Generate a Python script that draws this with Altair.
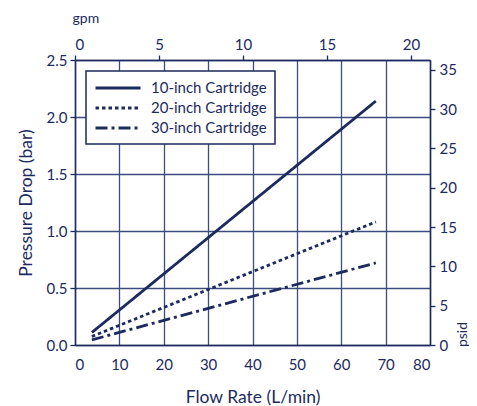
import altair as alt
import pandas as pd

# ---- data ----
series = ["10-inch Cartridge", "20-inch Cartridge", "30-inch Cartridge"]
flow_start = [3.8, 3.8, 3.8]        # L/min
flow_end = [67.8, 67.8, 67.8]       # L/min
bar_start = [0.11, 0.075, 0.045]    # bar
bar_end = [2.14, 1.08, 0.72]        # bar

flow_ticks = [0, 10, 20, 30, 40, 50, 60, 70, 80]
bar_ticks = [0.0, 0.5, 1.0, 1.5, 2.0, 2.5]
gpm_ticks = [0, 5, 10, 15, 20]
psid_ticks = [0, 5, 10, 15, 20, 25, 30, 35]

LPM_PER_GPM = 3.78541
PSI_PER_BAR = 14.5038
flow_max = 80
bar_max = 2.5

rows = []
for s, x0, x1, y0, y1 in zip(series, flow_start, flow_end, bar_start, bar_end):
    rows.append({"series": s, "flow": x0, "bar": y0})
    rows.append({"series": s, "flow": x1, "bar": y1})
df = pd.DataFrame(rows)

df2 = pd.DataFrame({"gpm": [0, flow_max / LPM_PER_GPM],
                    "psid": [0, bar_max * PSI_PER_BAR]})

navy = "#1c2a5e"
grid = "#3d4c7c"
font = "Lato"

lines = alt.Chart(df).mark_line(strokeWidth=2.8, strokeCap="butt", color=navy).encode(
    x=alt.X("flow:Q",
            scale=alt.Scale(domain=[0, flow_max], nice=False, zero=True),
            axis=alt.Axis(values=flow_ticks, title="Flow Rate (L/min)", grid=True,
                          ticks=False, labelPadding=12, titlePadding=16)),
    y=alt.Y("bar:Q",
            scale=alt.Scale(domain=[0, bar_max], nice=False),
            axis=alt.Axis(values=bar_ticks, format=".1f", title="Pressure Drop (bar)",
                          grid=True, tickSize=5, labelPadding=3, titlePadding=11)),
    strokeDash=alt.StrokeDash(
        "series:N",
        scale=alt.Scale(domain=series, range=[[1, 0], [3.5, 3], [12, 4, 3, 4]]),
        legend=alt.Legend(title=None, orient="none", legendX=11, legendY=11,
                          fillColor="white", strokeColor=navy,
                          padding=8, symbolType="M-1,0H5", symbolSize=225,
                          symbolStrokeWidth=2.8, symbolStrokeColor=navy,
                          labelFontSize=15, labelColor=navy, labelFont=font,
                          rowPadding=3, labelOffset=39),
    ),
)

secondary = alt.Chart(df2).mark_point(opacity=0).encode(
    x=alt.X("gpm:Q",
            scale=alt.Scale(domain=[0, flow_max / LPM_PER_GPM], nice=False),
            axis=alt.Axis(orient="top", values=gpm_ticks, title="gpm", grid=False,
                          tickSize=5, labelPadding=3, titleAnchor="start",
                          titleAlign="left", titleX=-3, titleY=-42,
                          titleBaseline="middle", titleFontSize=14)),
    y=alt.Y("psid:Q",
            scale=alt.Scale(domain=[0, bar_max * PSI_PER_BAR], nice=False),
            axis=alt.Axis(orient="right", values=psid_ticks, title="psid", grid=False,
                          tickSize=5, labelPadding=4, titleAngle=270,
                          titleX=32, titleY=274, titleAlign="center",
                          titleBaseline="middle", titleFontSize=14)),
)

chart = alt.layer(lines, secondary).resolve_scale(
    x="independent", y="independent"
).properties(
    width=355, height=285, padding={"left": 9, "top": 3, "right": 0, "bottom": 0}
).configure_view(stroke=None).configure_axis(
    domainColor=navy, domainWidth=1.5, gridColor=grid, gridWidth=1.3,
    tickColor=navy, tickWidth=1.3, labelColor=navy, titleColor=navy,
    labelFont=font, titleFont=font, labelFontSize=15, titleFontSize=17.5,
    titleFontWeight="normal"
).configure_legend(strokeWidth=1.5)

chart.save("out.html", embed_options={"renderer": "svg", "actions": False})
